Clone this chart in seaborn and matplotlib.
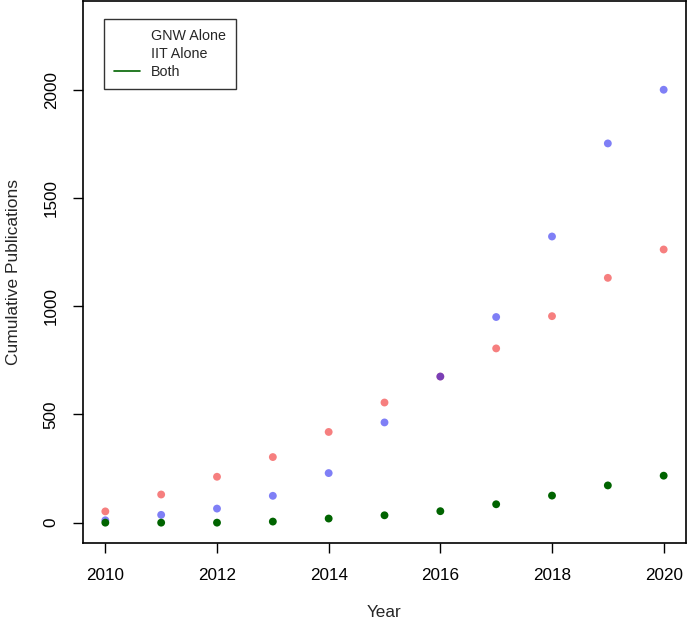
import numpy as np
import pandas as pd
import matplotlib
matplotlib.use("Agg")
import matplotlib.pyplot as plt
from matplotlib.lines import Line2D
import seaborn as sns

# data
years = [2010, 2011, 2012, 2013, 2014, 2015, 2016, 2017, 2018, 2019, 2020]
gnw_alone = [52, 130, 212, 303, 419, 555, 675, 805, 954, 1131, 1262]
iit_alone = [11, 36, 65, 124, 229, 463, 675, 950, 1322, 1752, 2000]
both = [0, 0, 0, 5, 19, 34, 53, 85, 125, 172, 217]
legend_labels = ["GNW Alone", "IIT Alone", "Both"]

df = pd.DataFrame({"Year": years, "GNW": gnw_alone, "IIT": iit_alone, "Both": both})

sns.set_style("ticks")
plt.rcParams['font.family'] = ['Liberation Sans', 'DejaVu Sans']

fig = plt.figure(figsize=(6.88, 6.29), dpi=100)
ax = fig.add_axes([83/688, 1 - 543/629, 603/688, 542/629])

sns.scatterplot(data=df, x="Year", y="GNW", color="#ee0000", alpha=0.5, s=32, edgecolor="none", ax=ax)
sns.scatterplot(data=df, x="Year", y="IIT", color="#0000ee", alpha=0.5, s=32, edgecolor="none", ax=ax)
sns.scatterplot(data=df, x="Year", y="Both", color="#006400", s=32, edgecolor="none", ax=ax)

ax.set_xlim(2009.6, 2020.4)
ax.set_ylim(-94, 2410)
ax.set_xticks([2010, 2012, 2014, 2016, 2018, 2020])
ax.set_yticks([0, 500, 1000, 1500, 2000])

for sp in ax.spines.values():
    sp.set_visible(True)
    sp.set_color("black")
    sp.set_linewidth(1.2)

ax.tick_params(axis="both", direction="out", length=7, width=1, labelsize=12.3, colors="black")
ax.tick_params(axis="x", pad=11)
ax.tick_params(axis="y", pad=10.5)
for lab in ax.get_yticklabels():
    lab.set_rotation(90)
    lab.set_va("center")

ax.set_xlabel("Year", fontsize=12.3)
ax.set_ylabel("Cumulative Publications", fontsize=12.5)
ax.xaxis.set_label_coords(0.5, -0.114)
ax.yaxis.set_label_coords(-0.103, 0.5)

handles = [
    Line2D([], [], color="white", lw=1.2),
    Line2D([], [], color="white", lw=1.2),
    Line2D([], [], color="#006400", lw=1.2),
]
leg = ax.legend(handles, legend_labels, loc="upper left", bbox_to_anchor=(0.035, 0.966),
                borderaxespad=0, fancybox=False, frameon=True, fontsize=10.3,
                handlelength=1.8, labelspacing=0.28, borderpad=0.7, handletextpad=0.8)
leg.get_frame().set_edgecolor("black")
leg.get_frame().set_linewidth(1.0)

fig.savefig("out.png", dpi=100)
